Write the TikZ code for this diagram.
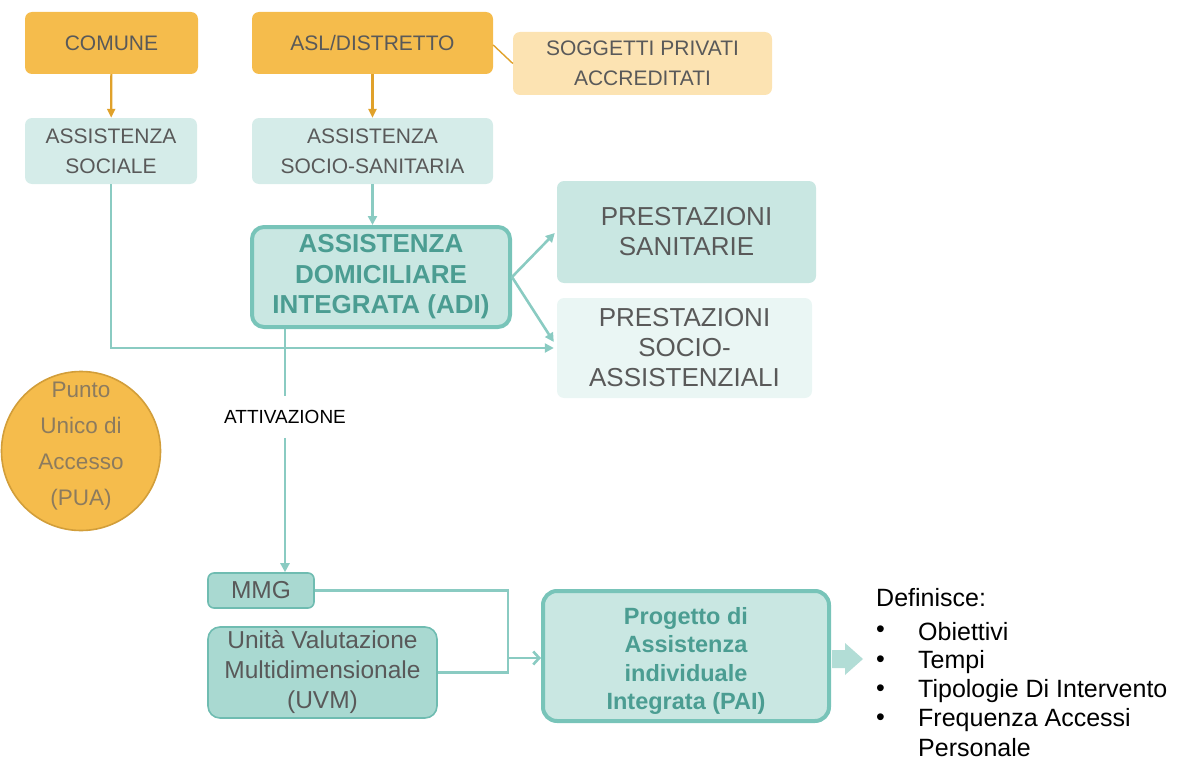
\documentclass[tikz,border=0pt]{standalone}
\usepackage{fontspec}
\setmainfont{Liberation Sans}
\usetikzlibrary{arrows.meta,calc}

\definecolor{orMain}{HTML}{F5BC4C}
\definecolor{orLight}{HTML}{FCE3B2}
\definecolor{orLine}{HTML}{E0A12A}
\definecolor{orEdge}{HTML}{D29E3A}
\definecolor{puaText}{HTML}{8C7B5E}
\definecolor{tlLight}{HTML}{D5ECE9}
\definecolor{tlMid}{HTML}{C9E7E2}
\definecolor{tlPale}{HTML}{EAF6F4}
\definecolor{tlBox}{HTML}{A9D9D1}
\definecolor{tlEdge}{HTML}{6FBCB1}
\definecolor{tlBorder}{HTML}{78C4B9}
\definecolor{tlText}{HTML}{4B9D92}
\definecolor{tlLine}{HTML}{8ACBC2}
\definecolor{tlArrow}{HTML}{B2DDD6}
\definecolor{grText}{HTML}{595959}

\tikzset{
  box/.style={rounded corners=7pt, align=center, text=grText, inner sep=0pt},
  orbox/.style={box, fill=orMain, font=\fontsize{21}{30}\selectfont},
  orpale/.style={box, fill=orLight, font=\fontsize{21}{30}\selectfont},
  tlsmall/.style={box, fill=tlLight, font=\fontsize{21}{30}\selectfont},
  prest/.style={box, font=\fontsize{26}{30}\selectfont},
  keybox/.style={box, fill=tlMid, draw=tlBorder, line width=4pt, rounded corners=12pt,
                 text=tlText, font=\bfseries\fontsize{26}{30.5}\selectfont},
  pairbox/.style={box, fill=tlMid, draw=tlBorder, line width=4pt, rounded corners=14pt},
  pairtext/.style={align=center, inner sep=0pt, text=tlText,
                 font=\bfseries\fontsize{23.5}{28.5}\selectfont},
  darkbox/.style={box, fill=tlBox, draw=tlEdge, line width=1.6pt,
                 font=\fontsize{24.5}{30}\selectfont},
  orarrow/.style={draw=orLine, line width=2.2pt, -{Triangle[length=9pt,width=8pt]}},
  conn/.style={draw=tlLine, line width=2.6pt},
  connarrow/.style={conn, -{Triangle[length=9pt,width=9pt]}},
  connbarb/.style={conn, -{Straight Barb[length=6pt,width=13pt]}},
  listtext/.style={anchor=west, inner sep=0pt, font=\fontsize{25}{29}\selectfont}
}

\begin{document}
\begin{tikzpicture}[x=1pt,y=-1pt]
\useasboundingbox (0,0) rectangle (1187,760);

% providers
\node[orbox, minimum width=173, minimum height=62] (comune) at (111.5,43) {COMUNE};
\node[orbox, minimum width=241, minimum height=62] (asl) at (372.5,43) {ASL/DISTRETTO};
\node[orpale, minimum width=259, minimum height=63] (sogg) at (642.5,63.5) {SOGGETTI PRIVATI\\ACCREDITATI};

% kinds of assistance
\node[tlsmall, minimum width=172, minimum height=66] (asoc) at (111,151) {ASSISTENZA\\SOCIALE};
\node[tlsmall, minimum width=241, minimum height=66] (asan) at (372.5,151) {ASSISTENZA\\SOCIO-SANITARIA};

% ADI and services
\node[keybox, minimum width=258, minimum height=100] (adi) at (381,277) {ASSISTENZA\\DOMICILIARE\\INTEGRATA (ADI)};
\node[prest, fill=tlMid, minimum width=259, minimum height=102] (psan) at (686.5,232) {PRESTAZIONI\\SANITARIE};
\node[prest, fill=tlPale, minimum width=255, minimum height=100] (psoc) at (684.5,348) {PRESTAZIONI\\SOCIO-\\ASSISTENZIALI};

% single access point
\node[circle, fill=orMain, draw=orEdge, line width=1.6pt, minimum size=159, inner sep=0pt] (pua) at (81,451) {};
\node[align=center, text=puaText, inner sep=0pt, font=\fontsize{22.5}{36}\selectfont] (puatext) at (81,446)
      {Punto\\Unico di\\Accesso\\(PUA)};

% activation
\node[inner sep=0pt, font=\fontsize{19}{22}\selectfont] (attiv) at (285,417) {ATTIVAZIONE};

% evaluation and plan
\node[darkbox, minimum width=106, minimum height=35, rounded corners=6pt] (mmg) at (261,590.5) {MMG};
\node[darkbox, minimum width=229, minimum height=91, rounded corners=12pt] (uvm) at (322.5,672.5) {Unità Valutazione\\Multidimensionale\\(UVM)};
\node[pairbox, minimum width=286, minimum height=130] (pai) at (686,656) {};
\node[pairtext] (paitext) at (686,661) {Progetto di\\Assistenza\\individuale\\Integrata (PAI)};

% block arrow towards the list
\coordinate (ob) at ($(pai.east)+(1,3)$);
\fill[tlArrow] ($(ob)+(0,-9)$) -- ++(13,0) -- ++(0,-7) -- ($(ob)+(31,0)$)
   -- ($(ob)+(13,16)$) -- ++(0,-7) -- ($(ob)+(0,9)$) -- cycle;

% outcome list
\node[listtext] (def) at (876,598) {Definisce:};
\foreach \y/\t [count=\i] in {632/Obiettivi, 662/Tempi, 691/Tipologie Di Intervento, 720/Frequenza Accessi} {
  \node[listtext] (b\i) at (876,\y) {\textbullet};
  \node[listtext] (it\i) at (918,\y) {\t};
}
\node[listtext] (it5) at (918,748) {Personale};

% connectors
\draw[orarrow] (comune) -- (asoc);
\draw[orarrow] (asl) -- (asan);
\draw[draw=orLine, line width=1.4pt] ($(asl.east)+(0,2)$) -- (sogg.west);
\draw[connarrow] (asan.south) -- (asan.south |- adi.north);
\draw[connarrow] (adi.east) -- ($(psan.west)+(-2,1)$);
\draw[connarrow] (adi.east) -- ($(psoc.west)+(-3,-6)$);
\draw[connarrow] (asoc.south) |- ($(psoc.west)+(-3,0)$);
\draw[conn] (adi.south -| attiv) -- ($(attiv.north)+(0,-14)$);
\draw[connarrow] ($(attiv.south)+(0,14)$) -- (attiv |- mmg.north);
\coordinate (join) at (508,658);
\draw[conn] (mmg.east) -| (join |- uvm.east) -- (uvm.east);
\draw[connbarb] (join) -- (join -| pai.west);
\end{tikzpicture}
\end{document}
